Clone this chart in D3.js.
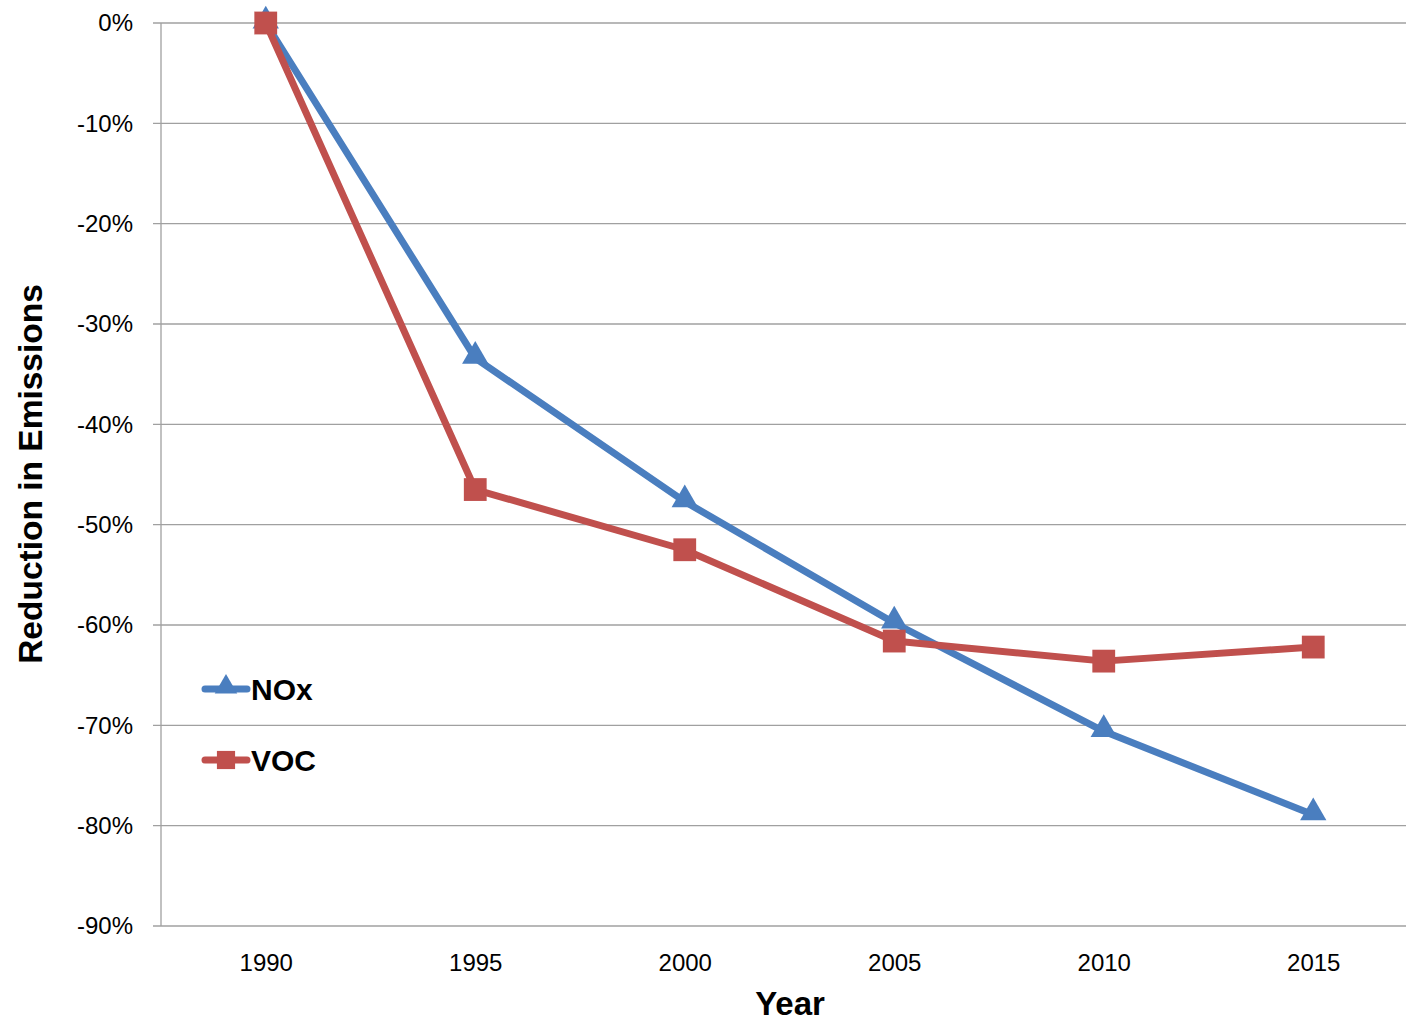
<!DOCTYPE html>
<html><head><meta charset="utf-8">
<script src="https://cdn.jsdelivr.net/npm/d3@7"></script>
<style>body{margin:0;background:#fff}svg{display:block}</style>
</head><body>
<svg id="c" width="1406" height="1023"></svg>
<script>
const years = ["1990","1995","2000","2005","2010","2015"];
const noxValues = [0, -33.4, -47.7, -59.8, -70.6, -78.9];
const vocValues = [0, -46.5, -52.5, -61.6, -63.6, -62.2];
const yTicks = [0, -10, -20, -30, -40, -50, -60, -70, -80, -90];
const seriesNames = ["NOx", "VOC"];
const colors = ["#4a7ebf", "#c0504d"];

(function () {
const svg = d3.select("#c");
const pL = 161, pR = 1418, pT = 23, pB = 926;
const x = d3.scalePoint().domain(years).range([pL, pR]).padding(0.5);
const y = d3.scaleLinear().domain([-90, 0]).range([pB, pT]);
const grid = "#a0a0a0";
const tickFont = "'Liberation Sans', Arial, sans-serif";

svg.append("g").selectAll("line").data(yTicks).join("line")
  .attr("x1", pL - 8).attr("x2", 1406)
  .attr("y1", d => y(d)).attr("y2", d => y(d))
  .attr("stroke", grid).attr("stroke-width", 1.3);
svg.append("line").attr("x1", pL).attr("x2", pL).attr("y1", pT).attr("y2", pB)
  .attr("stroke", grid).attr("stroke-width", 1.3);

const yAxis = d3.axisLeft(y).tickValues(yTicks).tickFormat(d => d + "%").tickSize(0).tickPadding(28);
const gy = svg.append("g").attr("transform", `translate(${pL},0)`).call(yAxis);
gy.select(".domain").remove();
gy.selectAll("text").attr("font-family", tickFont).attr("font-size", 24).attr("fill", "#000");

const xAxis = d3.axisBottom(x).tickSize(0).tickPadding(28);
const gx = svg.append("g").attr("transform", `translate(0,${pB})`).call(xAxis);
gx.select(".domain").remove();
gx.selectAll("text").attr("font-family", tickFont).attr("font-size", 24).attr("fill", "#000");

svg.append("text").attr("x", 790).attr("y", 1015).attr("text-anchor", "middle")
  .attr("font-family", "'Liberation Sans', Arial, sans-serif").attr("font-weight", "bold")
  .attr("font-size", 33).text("Year");
svg.append("text").attr("transform", "translate(42,474) rotate(-90)").attr("text-anchor", "middle")
  .attr("font-family", "'Liberation Sans', Arial, sans-serif").attr("font-weight", "bold")
  .attr("font-size", 33.5).text("Reduction in Emissions");

const line = d3.line().x((d, i) => x(years[i])).y(d => y(d));
const tri = d3.symbol().type(d3.symbolTriangle).size(300);
const sq = d3.symbol().type(d3.symbolSquare).size(520);
const data = [noxValues, vocValues];

[0, 1].forEach(k => {
  const g = svg.append("g");
  g.append("path").datum(data[k]).attr("d", line).attr("fill", "none")
    .attr("stroke", colors[k]).attr("stroke-width", 7).attr("stroke-linejoin", "round");
  g.selectAll("path.m").data(data[k]).join("path").attr("class", "m")
    .attr("transform", (d, i) => `translate(${x(years[i])},${y(d) + (k === 0 ? -2 : 0)})`)
    .attr("d", k === 0 ? tri : sq).attr("fill", colors[k]);
});

const legY = [689, 760];
seriesNames.forEach((name, k) => {
  const g = svg.append("g");
  g.append("line").attr("x1", 205).attr("x2", 247).attr("y1", legY[k]).attr("y2", legY[k])
    .attr("stroke", colors[k]).attr("stroke-width", 7).attr("stroke-linecap", "round");
  g.append("path").attr("transform", `translate(226,${legY[k] + (k === 0 ? -2 : 0)})`)
    .attr("d", k === 0 ? d3.symbol().type(d3.symbolTriangle).size(220)() : d3.symbol().type(d3.symbolSquare).size(330)())
    .attr("fill", colors[k]);
  g.append("text").attr("x", 251).attr("y", legY[k] + 11)
    .attr("font-family", "'Liberation Sans', Arial, sans-serif").attr("font-weight", "bold")
    .attr("font-size", 30).attr("fill", "#000").text(name);
});
})();
</script>
</body></html>
